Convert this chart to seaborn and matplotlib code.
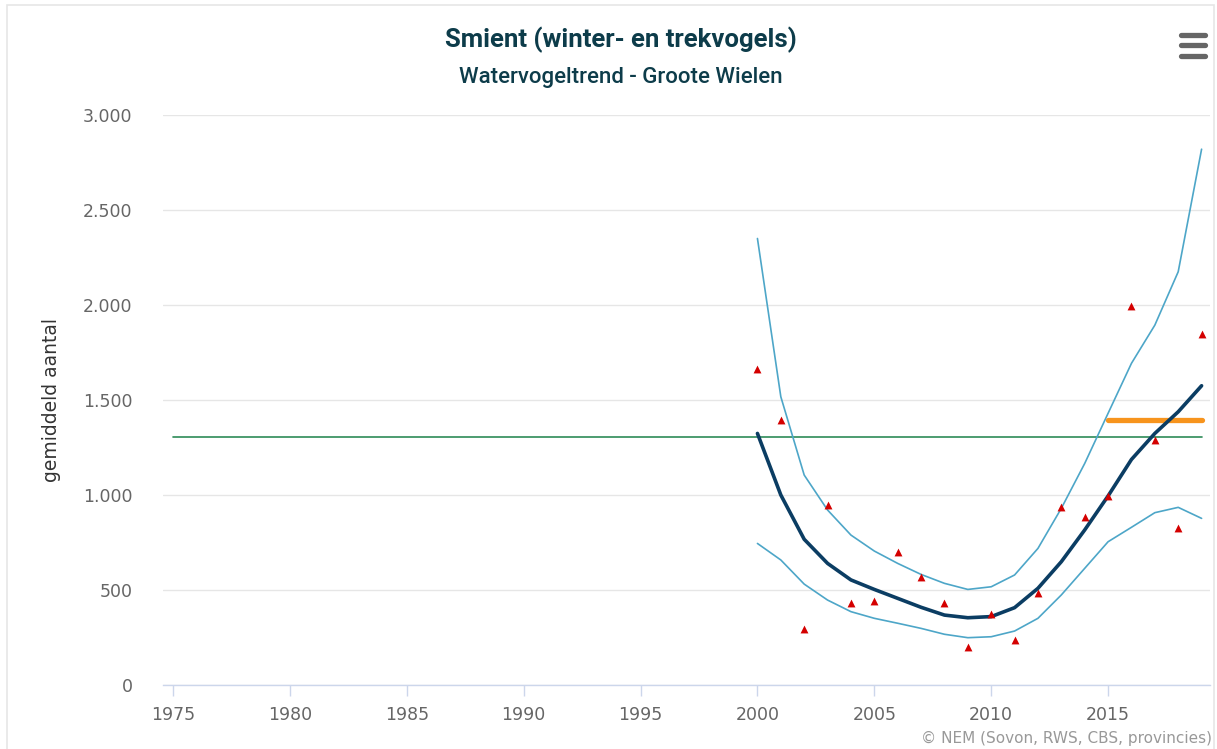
import matplotlib
matplotlib.use('Agg')
import matplotlib.pyplot as plt
from matplotlib.ticker import FuncFormatter
from matplotlib.lines import Line2D
from matplotlib.patches import Rectangle
import seaborn as sns
import pandas as pd

# data
years = list(range(2000, 2020))
counts = [1663, 1396, 296, 945, 433, 444, 700, 570, 433, 198,
          374, 237, 482, 935, 886, 995, 1996, 1289, 826, 1849]
trend = [1324, 1000, 767, 640, 553, 503, 456, 409, 368, 354,
         360, 407, 509, 649, 816, 995, 1187, 1324, 1438, 1575]
upper = [2350, 1517, 1105, 921, 789, 705, 640, 582, 535, 503,
         517, 579, 719, 930, 1166, 1430, 1693, 1894, 2175, 2820]
lower = [745, 658, 531, 447, 386, 351, 325, 298, 267, 249,
         254, 284, 351, 474, 614, 754, 830, 907, 935, 877]
ref_years = [1975, 2019]
ref_level = [1303, 1303]
recent_years = [2015, 2019]
recent_level = [1395, 1395]
xticks = [1975, 1980, 1985, 1990, 1995, 2000, 2005, 2010, 2015]
yticks = [0, 500, 1000, 1500, 2000, 2500, 3000]

df = pd.DataFrame({'jaar': years, 'aantal': counts, 'trend': trend,
                   'boven': upper, 'onder': lower})

sns.set_theme(style='white')
plt.rcParams['font.family'] = ['DejaVu Sans']

fig = plt.figure(figsize=(12.17, 7.49), dpi=100)
ax = fig.add_axes([163 / 1217, 1 - 685 / 749, (1210 - 163) / 1217, (685 - 115) / 749])

# reference line (green) and recent mean (orange)
sns.lineplot(x=ref_years, y=ref_level, ax=ax, color='#2e8b57', linewidth=1.2, zorder=2)
sns.lineplot(x=recent_years, y=recent_level, ax=ax, color='#f7941d', linewidth=3.8,
             zorder=4, solid_capstyle='round')

# confidence band lines
sns.lineplot(data=df, x='jaar', y='boven', ax=ax, color='#4da6c8', linewidth=1.2, zorder=3)
sns.lineplot(data=df, x='jaar', y='onder', ax=ax, color='#4da6c8', linewidth=1.2, zorder=3)
# trend
sns.lineplot(data=df, x='jaar', y='trend', ax=ax, color='#0b3d63', linewidth=2.6, zorder=5)
# yearly counts
sns.scatterplot(data=df, x='jaar', y='aantal', ax=ax, marker='^', color='#d40000',
                s=32, linewidth=0, zorder=6)

ax.set_xlim(1974.57, 2019.36)
ax.set_ylim(0, 3000)
ax.set_xticks(xticks)
ax.set_yticks(yticks)
ax.yaxis.set_major_formatter(FuncFormatter(lambda v, p: f"{int(v):,}".replace(',', '.')))

ax.grid(axis='y', color='#e6e6e6', linewidth=1)
ax.grid(axis='x', visible=False)
for s in ['top', 'right', 'left']:
    ax.spines[s].set_visible(False)
ax.spines['bottom'].set_color('#ccd6eb')
ax.spines['bottom'].set_linewidth(1)
ax.tick_params(axis='x', direction='out', length=8, width=1, color='#ccd6eb',
               pad=7, labelsize=12.5, labelcolor='#666666', bottom=True)
ax.tick_params(axis='y', length=0, pad=22, labelsize=12.5, labelcolor='#666666')

ax.set_xlabel('')
ax.set_ylabel('gemiddeld aantal', fontsize=13.5, color='#333333', fontweight='medium')
ax.yaxis.set_label_coords(-0.0974, 0.5)

# titles
fig.text(621 / 1217, 1 - 40 / 749, 'Smient (winter- en trekvogels)', ha='center', va='center',
         fontsize=18.5, color='#0d3c4a', fontweight='bold', family='Roboto')
fig.text(621 / 1217, 1 - 78 / 749, 'Watervogeltrend - Groote Wielen', ha='center', va='center',
         fontsize=16, color='#0d3c4a', fontweight='medium', family='Roboto')

# credits
fig.text(1212 / 1217, 1 - 738 / 749, '\u00a9 NEM (Sovon, RWS, CBS, provincies)', ha='right',
         va='center', fontsize=11, color='#999999')

# outer frame
fig.add_artist(Rectangle((7 / 1217, -0.01), (1214 - 7) / 1217, 1 - 5 / 749 + 0.01,
                         transform=fig.transFigure, fill=False, edgecolor='#e6e6e6', linewidth=1.2))

# menu icon
for yy in [35, 45, 56]:
    fig.add_artist(Line2D([1181 / 1217, 1205 / 1217], [1 - yy / 749, 1 - yy / 749],
                          transform=fig.transFigure, color='#666666', linewidth=3.8,
                          solid_capstyle='round'))

plt.savefig('out.png', dpi=100)
